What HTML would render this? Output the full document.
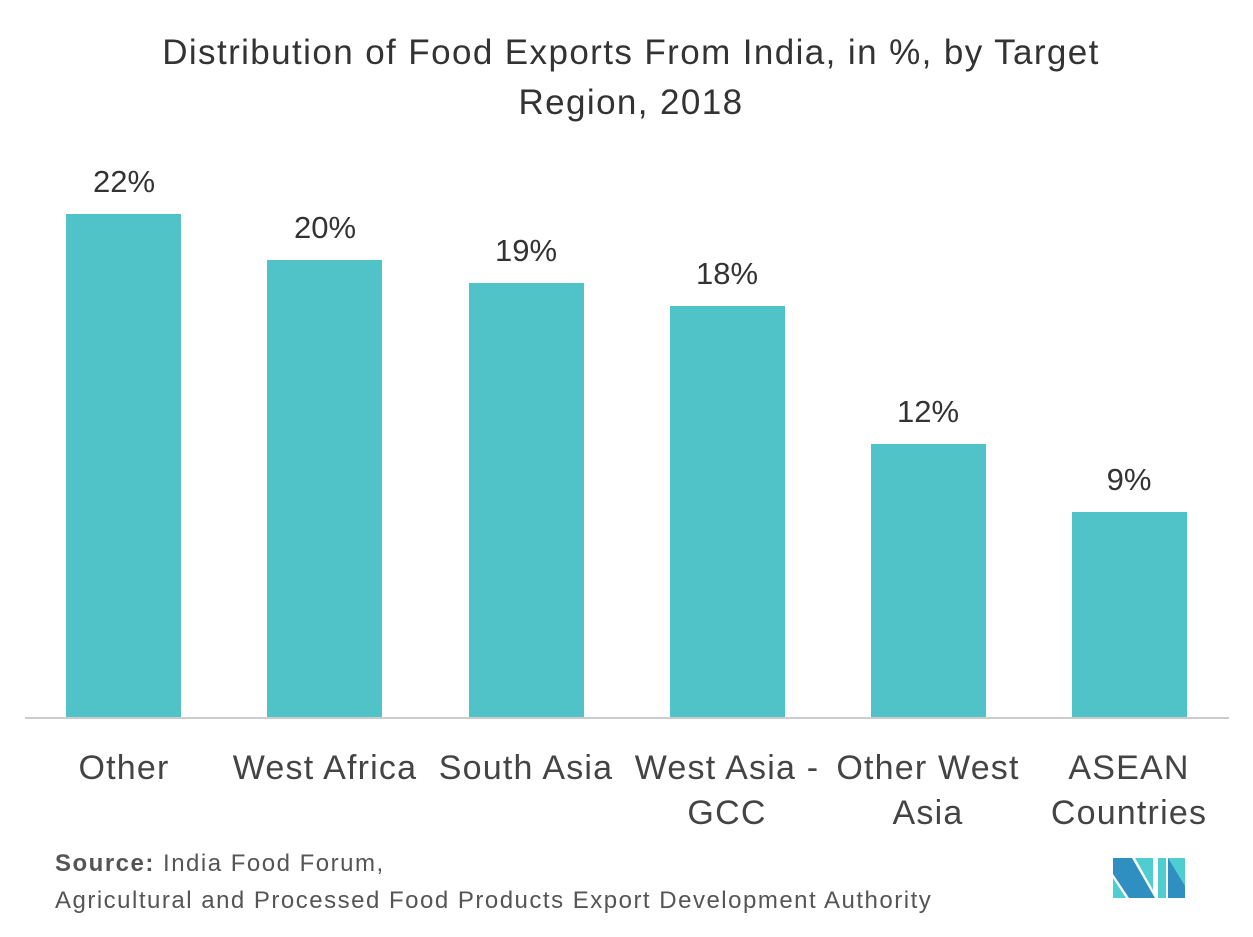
<!DOCTYPE html>
<html><head><style>
body{margin:0;width:1253px;height:937px;background:#fff;font-family:"Liberation Sans",sans-serif;color:#444;position:relative;overflow:hidden}
.t{position:absolute;white-space:nowrap}
.bar{position:absolute;background:#50c3c9;width:115px}
.v{position:absolute;width:160px;text-align:center;font-size:31px;color:#333}
.c{position:absolute;width:220px;text-align:center;font-size:34px;letter-spacing:1.2px;line-height:45px;color:#444}
</style></head><body>
<div class="t" style="left:0;width:1262px;text-align:center;top:28px;font-size:35px;letter-spacing:1.4px;line-height:50px;color:#333">Distribution of Food Exports From India, in %, by Target<br>Region, 2018</div>
<div class="bar" style="left:66px;top:214px;height:504px"></div>
<div class="bar" style="left:267px;top:260px;height:458px"></div>
<div class="bar" style="left:469px;top:283px;height:435px"></div>
<div class="bar" style="left:670px;top:306px;height:412px"></div>
<div class="bar" style="left:871px;top:444px;height:274px"></div>
<div class="bar" style="left:1072px;top:512px;height:206px"></div>
<div style="position:absolute;left:25px;top:717px;width:1204px;height:2px;background:#ccc"></div>
<div class="v" style="left:44px;top:164px">22%</div>
<div class="v" style="left:245px;top:210px">20%</div>
<div class="v" style="left:446px;top:233px">19%</div>
<div class="v" style="left:647px;top:256px">18%</div>
<div class="v" style="left:848px;top:394px">12%</div>
<div class="v" style="left:1049px;top:462px">9%</div>
<div class="c" style="left:14px;top:746px">Other</div>
<div class="c" style="left:215px;top:746px">West Africa</div>
<div class="c" style="left:416px;top:746px">South Asia</div>
<div class="c" style="left:617px;top:746px">West Asia -<br>GCC</div>
<div class="c" style="left:818px;top:746px">Other West<br>Asia</div>
<div class="c" style="left:1019px;top:746px">ASEAN<br>Countries</div>
<div class="t" style="left:55px;top:845px;font-size:24px;letter-spacing:1.5px;line-height:37px;color:#555"><b>Source:</b> India Food Forum,<br>Agricultural and Processed Food Products Export Development Authority</div>
<svg style="position:absolute;left:1113px;top:858px" width="73" height="40" viewBox="0 0 73 40">
<polygon points="0,0 19,0 42,40 16,40 0,16" fill="#2e8fc0"/>
<polygon points="0,20 0,40 13,40" fill="#4fcdd0"/>
<polygon points="22,0 40,0 40,32" fill="#4fcdd0"/>
<polygon points="45,0 53,0 53,40 45,40" fill="#4fcdd0"/>
<polygon points="55,0 72,0 72,40 55,40" fill="#2e8fc0"/>
<polygon points="55,0 72,0 72,28" fill="#4fcdd0"/>
</svg>
</body></html>
